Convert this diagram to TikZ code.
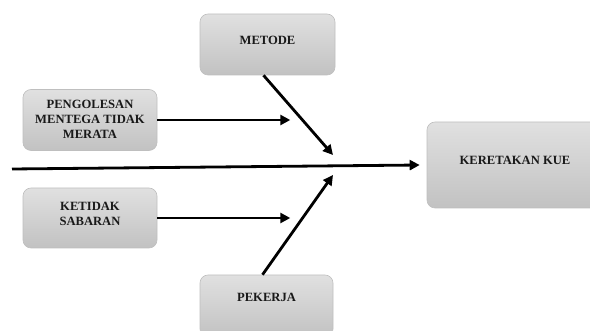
\documentclass[tikz,border=0pt]{standalone}
\usepackage{fontspec}
\setmainfont{Liberation Serif}
\usetikzlibrary{arrows.meta}
\begin{document}
\begin{tikzpicture}[x=1pt,y=-1pt,
  box/.style={draw=black!25, line width=0.6pt, rounded corners=8pt,
    top color=black!12, bottom color=black!24, inner sep=0pt},
  lbl/.style={font=\bfseries\fontsize{12.6}{15}\selectfont, align=center, inner sep=0pt, text=black!90},
  arr/.style={line width=2.8pt, -{Triangle[length=10pt,width=10pt]}}]
\useasboundingbox (0,0) rectangle (590,331);
% boxes
\node[box, minimum width=135pt, minimum height=61pt] (metode) at (267.5,44.5) {};
\node[lbl] (metodet) at (267.5,40) {METODE};
\node[box, minimum width=134pt, minimum height=61pt] (peng) at (90,120) {};
\node[lbl] (pengt) at (90,119.5) {PENGOLESAN\\MENTEGA TIDAK\\MERATA};
\node[box, minimum width=134pt, minimum height=60pt] (keti) at (90,218) {};
\node[lbl] (ketit) at (90,213.5) {KETIDAK\\SABARAN};
\node[box, minimum width=133pt, minimum height=62pt] (pek) at (266.5,306) {};
\node[lbl] (pekt) at (266.5,297) {PEKERJA};
\node[box, minimum width=176pt, minimum height=86pt] (kere) at (515,165) {};
\node[lbl] (keret) at (515,160) {KERETAKAN KUE};
% connectors
\coordinate (start) at (12,169);
\coordinate (tip1) at (333,155);
\coordinate (tip2) at (333,175);
\draw[arr] (start) -- ([xshift=-7pt]kere.west);
\draw[arr] ([xshift=-4pt]metode.south) -- (tip1);
\draw[arr] ([xshift=-4pt]pek.north) -- (tip2);
\draw[arr] (peng.east) -- ([xshift=133pt]peng.east);
\draw[arr] (keti.east) -- ([xshift=133pt]keti.east);
\end{tikzpicture}
\end{document}
